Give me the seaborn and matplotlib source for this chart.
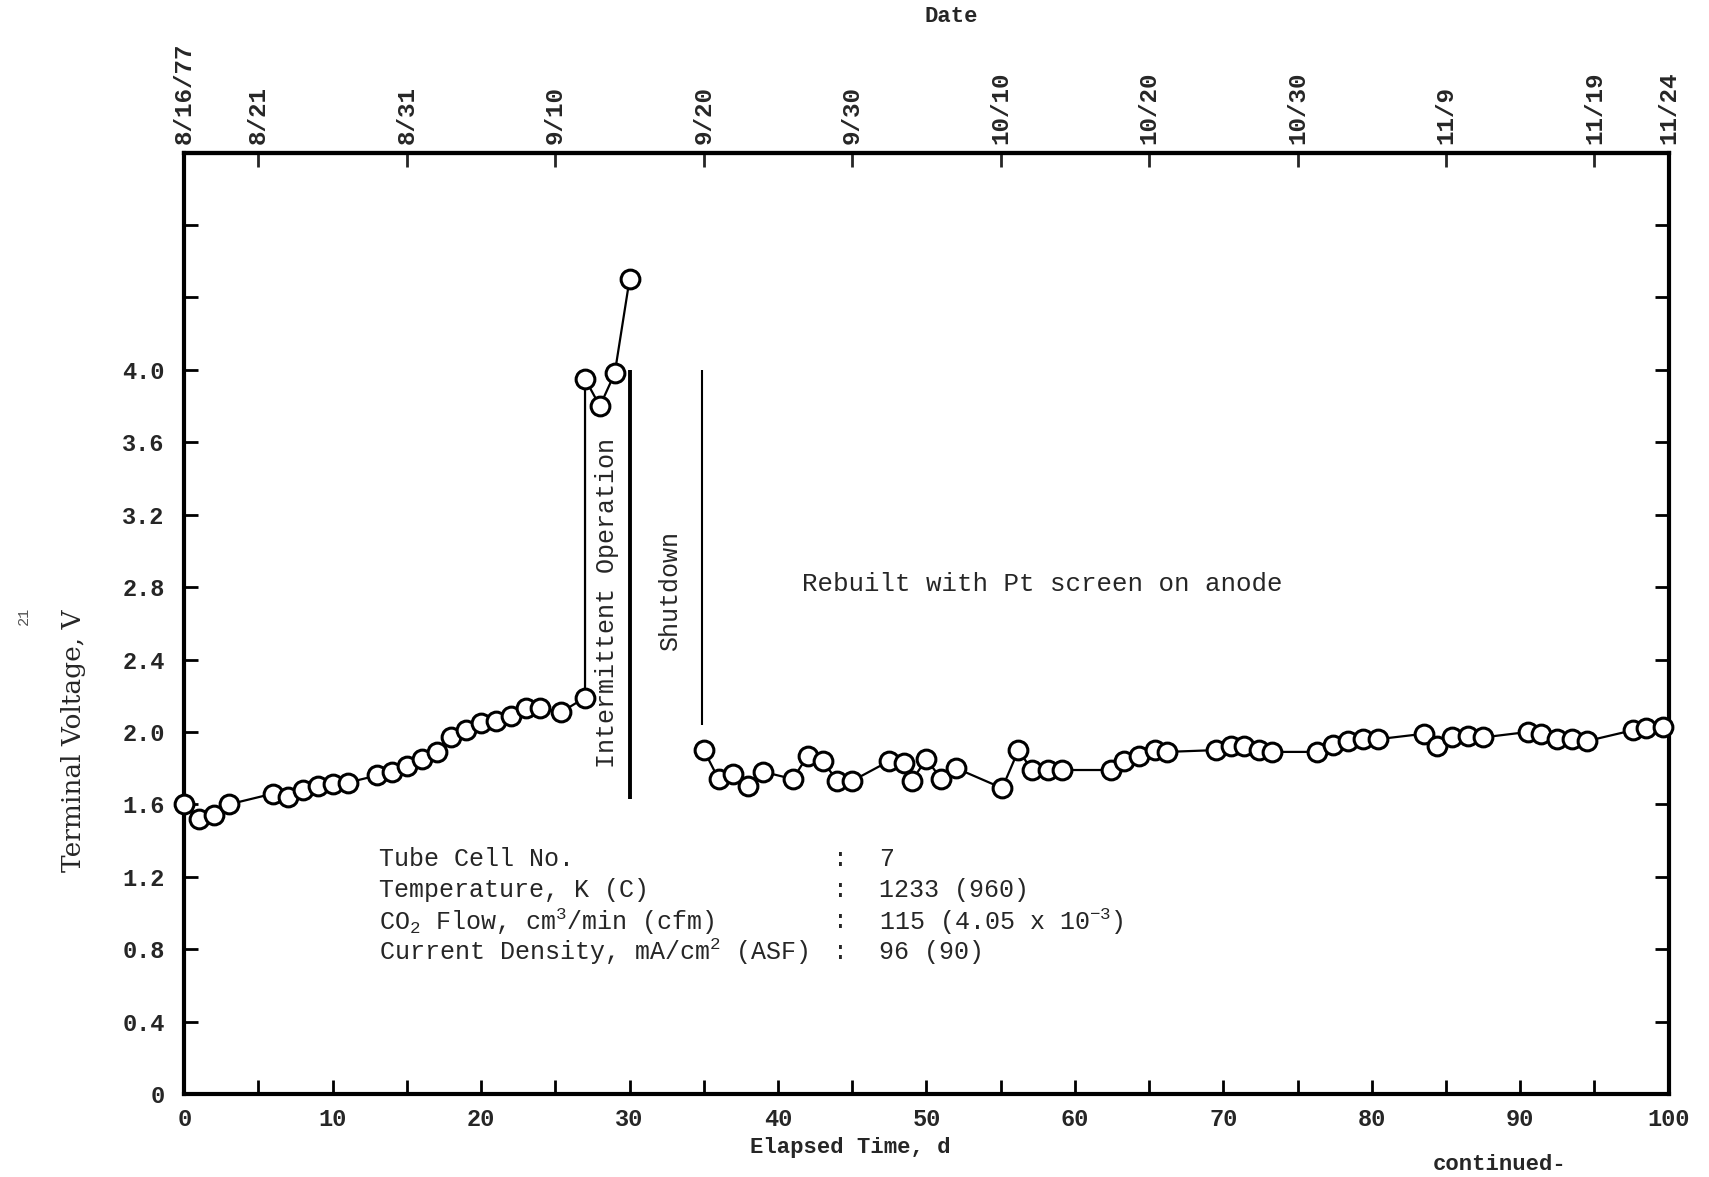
import numpy as np
import pandas as pd
import matplotlib
matplotlib.use("Agg")
import matplotlib.pyplot as plt
import seaborn as sns

# ---------------- data ----------------
days_before = [0, 1, 2, 3, 6, 7, 8, 9, 10, 11, 13, 14, 15, 16, 17, 18, 19, 20,
               21, 22, 23, 24, 25.4, 27, 27, 28, 29, 30]
volts_before = [1.60, 1.52, 1.54, 1.60, 1.66, 1.64, 1.68, 1.70, 1.71, 1.72, 1.76,
                1.78, 1.81, 1.85, 1.89, 1.97, 2.01, 2.05, 2.06, 2.09, 2.13, 2.13,
                2.11, 2.19, 3.95, 3.80, 3.98, 4.50]

days_after = [35, 36, 37, 38, 39, 41, 42, 43, 44, 45, 47.5, 48.5, 49, 50, 51, 52,
              55.1, 56.2, 57.1, 58.2, 59.1, 62.4, 63.3, 64.3, 65.4, 66.2, 69.5,
              70.5, 71.4, 72.4, 73.3, 76.3, 77.4, 78.4, 79.4, 80.4, 83.5, 84.4,
              85.4, 86.5, 87.5, 90.5, 91.4, 92.5, 93.5, 94.5, 97.6, 98.5, 99.6]
volts_after = [1.90, 1.74, 1.77, 1.70, 1.78, 1.74, 1.87, 1.84, 1.73, 1.73, 1.84,
               1.83, 1.73, 1.85, 1.74, 1.80, 1.69, 1.90, 1.79, 1.79, 1.79, 1.79,
               1.84, 1.87, 1.90, 1.89, 1.90, 1.92, 1.92, 1.90, 1.89, 1.89, 1.93,
               1.95, 1.96, 1.96, 1.99, 1.92, 1.97, 1.98, 1.97, 2.00, 1.99, 1.96,
               1.96, 1.95, 2.01, 2.02, 2.03]

x_ticks_major = [0, 10, 20, 30, 40, 50, 60, 70, 80, 90, 100]
x_ticks_all = [0, 5, 10, 15, 20, 25, 30, 35, 40, 45, 50, 55, 60, 65, 70, 75,
               80, 85, 90, 95, 100]
y_ticks_all = [0, 0.4, 0.8, 1.2, 1.6, 2.0, 2.4, 2.8, 3.2, 3.6, 4.0, 4.4, 4.8]
y_tick_labels = ["0", "0.4", "0.8", "1.2", "1.6", "2.0", "2.4", "2.8", "3.2",
                 "3.6", "4.0", "", ""]
date_days = [0, 5, 15, 25, 35, 45, 55, 65, 75, 85, 95, 100]
date_labels = ["8/16/77", "8/21", "8/31", "9/10", "9/20", "9/30", "10/10",
               "10/20", "10/30", "11/9", "11/19", "11/24"]

# event marker lines: (day, ymin, ymax)
intermittent_line = [30.0, 1.63, 4.0]
shutdown_line = [34.9, 2.04, 4.0]

info_labels = ["Tube Cell No.", "Temperature, K (C)",
               "CO$_2$ Flow, cm$^3$/min (cfm)",
               "Current Density, mA/cm$^2$ (ASF)"]
info_values = ["7", "1233 (960)", "115 (4.05 x 10$^{-3}$)", "96 (90)"]

# ---------------- style ----------------
sns.set_theme(style="ticks")
mono = ["Liberation Mono", "DejaVu Sans Mono"]
plt.rcParams["font.family"] = mono
plt.rcParams["mathtext.fontset"] = "custom"
plt.rcParams["mathtext.rm"] = "Liberation Mono"
plt.rcParams["mathtext.it"] = "Liberation Mono"
plt.rcParams["mathtext.bf"] = "Liberation Mono:bold"

fig = plt.figure(figsize=(17.09, 11.77), dpi=100)
ax = fig.add_axes([0.1078, 0.0704, 0.9764 - 0.1078, 0.8704 - 0.0704])
ax.set_facecolor("white")
fig.patch.set_facecolor("white")

df1 = pd.DataFrame({"day": days_before, "V": volts_before})
df2 = pd.DataFrame({"day": days_after, "V": volts_after})
for df in (df1, df2):
    sns.lineplot(data=df, x="day", y="V", ax=ax, estimator=None, sort=False,
                 color="black", linewidth=1.6, marker="o", markersize=13.5,
                 markerfacecolor="white", markeredgecolor="black",
                 markeredgewidth=2.2, clip_on=False, zorder=3)

ax.vlines(intermittent_line[0], intermittent_line[1], intermittent_line[2],
          color="black", linewidth=2.8)
ax.vlines(shutdown_line[0], shutdown_line[1], shutdown_line[2],
          color="black", linewidth=1.5)

ax.set_xlim(0, 100)
ax.set_ylim(0, 5.2)

ax.set_xticks(x_ticks_all)
ax.set_xticklabels([str(t) if t in x_ticks_major else "" for t in x_ticks_all])
ax.set_yticks(y_ticks_all)
ax.set_yticklabels(y_tick_labels)
ax.tick_params(axis="both", direction="in", length=10, width=2, color="black",
               labelsize=17, right=True)
ax.tick_params(axis="y", pad=14)
ax.tick_params(axis="x", pad=10)
for lab in ax.get_xticklabels() + ax.get_yticklabels():
    lab.set_fontweight("bold")
for s in ax.spines.values():
    s.set_visible(True)
    s.set_linewidth(3)
    s.set_color("black")
ax.set_xlabel("")
ax.set_ylabel("")

top = ax.secondary_xaxis("top")
top.set_xticks(date_days)
top.set_xticklabels(date_labels, rotation=90, fontsize=17.5, fontweight="bold")
top.tick_params(direction="in", length=10, width=2, pad=6)
top.spines["top"].set_linewidth(3)

# axis titles
ax.text(0.517, 1.145, "Date", transform=ax.transAxes, ha="center", va="center",
        fontsize=16, fontweight="bold")
ax.text(0.449, -0.057, "Elapsed Time, d", transform=ax.transAxes, ha="center",
        va="center", fontsize=16, fontweight="bold")
ax.text(0.886, -0.075, "continued-", transform=ax.transAxes, ha="center",
        va="center", fontsize=16, fontweight="bold")
ax.text(-0.0745, 0.375, "Terminal Voltage, V", transform=ax.transAxes,
        rotation=90, ha="center", va="center", fontsize=19,
        family=["DejaVu Serif"])
ax.text(-0.108, 0.508, "21", transform=ax.transAxes, rotation=90, ha="center",
        va="center", fontsize=11, color="#555555")

# annotations
ax.text(28.5, 2.71, "Intermittent Operation", rotation=90, ha="center",
        va="center", fontsize=18)
ax.text(32.7, 2.78, "Shutdown", rotation=90, ha="center", va="center",
        fontsize=18)
ax.text(41.6, 2.82, "Rebuilt with Pt screen on anode", ha="left", va="center",
        fontsize=18.6)

info_y = [1.30, 1.125, 0.955, 0.787]
for lbl, val, yy in zip(info_labels, info_values, info_y):
    ax.text(13.1, yy, lbl, ha="left", va="center", fontsize=18)
    ax.text(43.7, yy, ":", ha="left", va="center", fontsize=18)
    ax.text(46.8, yy, val, ha="left", va="center", fontsize=18)

fig.savefig("out.png", dpi=100, facecolor="white")
